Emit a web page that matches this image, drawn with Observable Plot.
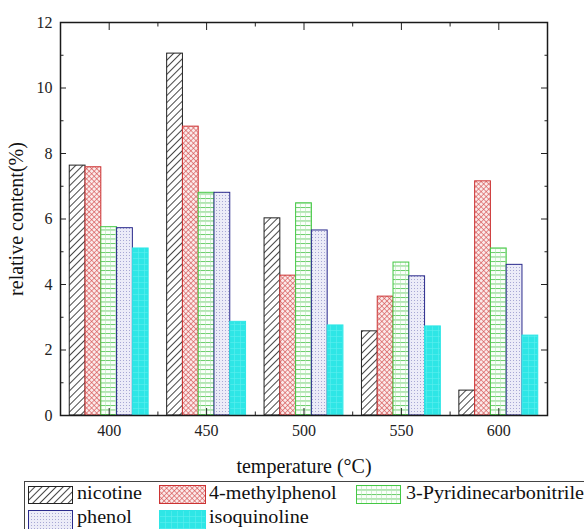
<!DOCTYPE html>
<html><head><meta charset="utf-8">
<script src="https://cdn.jsdelivr.net/npm/d3@7"></script>
<script src="https://cdn.jsdelivr.net/npm/@observablehq/plot@0.6"></script>
<style>
html,body{margin:0;padding:0;background:#fff;}
body{font-family:"Liberation Serif","DejaVu Serif","Times New Roman",serif;position:relative;width:584px;height:529px;overflow:hidden;}
#legend{position:absolute;left:24px;top:481px;width:620px;height:60px;border:1px solid #444;box-sizing:border-box;}
.item{position:absolute;font-size:18px;color:#111;line-height:1;transform:scaleX(1.12);transform-origin:0 0;white-space:nowrap;}
.sw{position:absolute;}
</style></head><body>
<svg width="0" height="0" style="position:absolute">
<defs>
<pattern id="pat0" patternUnits="userSpaceOnUse" width="5" height="5" patternTransform="rotate(45)">
<rect width="5" height="5" fill="#fff"/><line x1="0.5" y1="0" x2="0.5" y2="5" stroke="#333" stroke-width="0.9"/></pattern>
<pattern id="pat1" patternUnits="userSpaceOnUse" width="3.6" height="3.6" patternTransform="rotate(45)">
<rect width="3.6" height="3.6" fill="#fbeaea"/><line x1="0.3" y1="0" x2="0.3" y2="3.6" stroke="#d04848" stroke-width="0.7"/><line x1="0" y1="0.3" x2="3.6" y2="0.3" stroke="#d04848" stroke-width="0.7"/></pattern>
<pattern id="pat2" patternUnits="userSpaceOnUse" width="5" height="4.5">
<rect width="5" height="4.5" fill="#fbfffb"/><line x1="0" y1="0.5" x2="5" y2="0.5" stroke="#44c044" stroke-width="0.8"/><line x1="0.5" y1="0" x2="0.5" y2="4.5" stroke="#b8e8b8" stroke-width="0.6"/></pattern>
<pattern id="pat3" patternUnits="userSpaceOnUse" width="3" height="3">
<rect width="3" height="3" fill="#ececf8"/><rect x="0" y="0" width="1" height="1" fill="#a8a8d4"/></pattern>
<pattern id="pat4" patternUnits="userSpaceOnUse" width="6" height="6">
<rect width="6" height="6" fill="#2ee6e6"/><line x1="0" y1="0.5" x2="6" y2="0.5" stroke="#5cefef" stroke-width="0.6"/><line x1="0.5" y1="0" x2="0.5" y2="6" stroke="#5cefef" stroke-width="0.6"/></pattern>
</defs></svg>
<div id="chart"></div>
<div id="legend"></div>
<script>
// ---- data ----
const temperatures = [400, 450, 500, 550, 600];
const seriesNames = ["nicotine", "4-methylphenol", "3-Pyridinecarbonitrile", "phenol", "isoquinoline"];
const nicotine = [7.63, 11.05, 6.02, 2.57, 0.76];
const methylphenol = [7.58, 8.82, 4.27, 3.63, 7.15];
const pyridinecarbonitrile = [5.75, 6.8, 6.48, 4.67, 5.1];
const phenol = [5.72, 6.8, 5.65, 4.25, 4.6];
const isoquinoline = [5.1, 2.86, 2.75, 2.72, 2.44];
const yMajorTicks = [0, 2, 4, 6, 8, 10, 12];
const yMinorTicks = [1, 3, 5, 7, 9, 11];
const xMinorTicks = [425, 475, 525, 575];
const yTitle = "relative content(%)";
const xTitle = "temperature (°C)";

// ---- styles ----
const serif = "'Liberation Serif','DejaVu Serif','Times New Roman',serif";
const seriesFill = ["url(#pat0)", "url(#pat1)", "url(#pat2)", "url(#pat3)", "url(#pat4)"];
const seriesStroke = ["#222", "#cc3333", "#44c844", "#2a2a8c", "#2ee6e6"];
const allValues = [nicotine, methylphenol, pyridinecarbonitrile, phenol, isoquinoline];

const step = 50;           // temperature spacing
const groupFrac = 0.81;    // group width fraction of step
const barW = step * groupFrac / seriesNames.length;

const rows = [];
temperatures.forEach((t, ti) => {
  allValues.forEach((vals, si) => {
    const x1 = t - step * groupFrac / 2 + si * barW;
    rows.push({temp: t, series: seriesNames[si], si, value: vals[ti], x1, x2: x1 + barW,
               fill: seriesFill[si], stroke: seriesStroke[si]});
  });
});

const chart = Plot.plot({
  width: 584,
  height: 478,
  marginTop: 22,
  marginBottom: 63,
  marginLeft: 60,
  marginRight: 37,
  style: {fontFamily: serif, fontSize: "16px", color: "#222", background: "#fff"},
  x: {domain: [375, 625]},
  y: {domain: [0, 12]},
  color: {type: "identity"},
  marks: [
    Plot.rectY(rows, {x1: "x1", x2: "x2", y: "value", fill: "fill", stroke: "stroke", strokeWidth: 1}),
    Plot.axisY({anchor: "left", ticks: yMajorTicks, tickSize: -6, tickPadding: 14, tickFormat: d => d, label: null}),
    Plot.axisY({anchor: "left", ticks: yMinorTicks, tickSize: -3.5, tickFormat: () => "", label: null}),
    Plot.axisY({anchor: "right", ticks: yMajorTicks, tickSize: -7, tickFormat: () => "", label: null}),
    Plot.axisY({anchor: "right", ticks: yMinorTicks, tickSize: -3.5, tickFormat: () => "", label: null}),
    Plot.axisX({anchor: "bottom", ticks: temperatures, tickSize: -7, tickPadding: 16, tickFormat: d => d, label: null}),
    Plot.axisX({anchor: "bottom", ticks: xMinorTicks, tickSize: -3.5, tickFormat: () => "", label: null}),
    Plot.axisX({anchor: "top", ticks: temperatures, tickSize: -7, tickFormat: () => "", label: null}),
    Plot.axisX({anchor: "top", ticks: xMinorTicks, tickSize: -3.5, tickFormat: () => "", label: null}),
    Plot.text([yTitle], {frameAnchor: "left", rotate: -90, dx: -44, text: d => d, fontSize: 20,
      textAnchor: "middle", lineAnchor: "middle", fill: "#111"}),
    Plot.text([xTitle], {frameAnchor: "bottom", dy: 51, text: d => d, fontSize: 20,
      textAnchor: "middle", lineAnchor: "middle", fill: "#111"}),
    Plot.frame({stroke: "#1a1a1a", strokeWidth: 1.5})
  ]
});
chart.style.display = "block";
document.getElementById("chart").appendChild(chart);

// ---- legend ----
const legend = document.getElementById("legend");
const legendSlots = [
  {sw: [3, 4, 45, 18], tx: [52, 2]},
  {sw: [134, 3, 47, 19], tx: [184, 2]},
  {sw: [331, 3, 45, 19], tx: [381, 2]},
  {sw: [3, 28, 45, 22], tx: [52, 26]},
  {sw: [134, 28, 47, 22], tx: [184, 26]}
];
seriesNames.forEach((name, i) => {
  const s = legendSlots[i];
  const svg = d3.create("svg").attr("class", "sw")
    .style("left", s.sw[0] + "px").style("top", s.sw[1] + "px")
    .attr("width", s.sw[2]).attr("height", s.sw[3]);
  svg.append("rect").attr("x", 0.5).attr("y", 0.5).attr("width", s.sw[2] - 1).attr("height", s.sw[3] - 1)
    .attr("fill", seriesFill[i]).attr("stroke", seriesStroke[i]).attr("stroke-width", 1);
  legend.appendChild(svg.node());
  const t = document.createElement("div");
  t.className = "item";
  t.style.left = s.tx[0] + "px";
  t.style.top = s.tx[1] + "px";
  t.textContent = name;
  legend.appendChild(t);
});
</script>
</body></html>
